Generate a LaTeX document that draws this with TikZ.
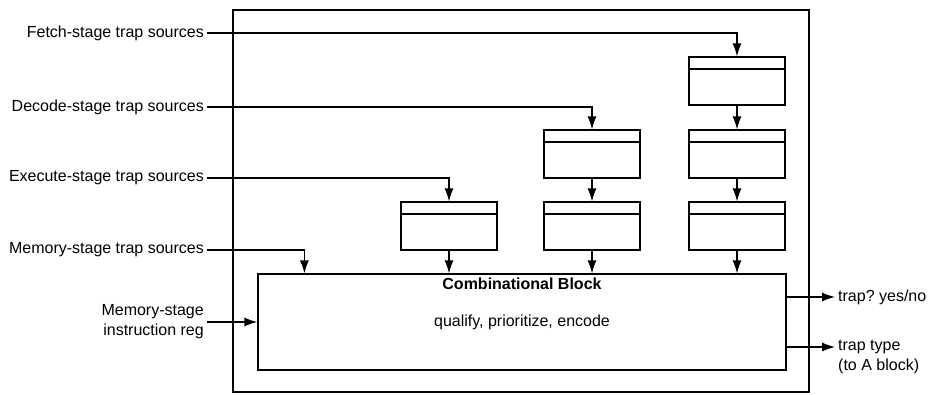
\documentclass[tikz,border=0pt]{standalone}
\usepackage{fontspec}
\setmainfont{Liberation Sans}
\usetikzlibrary{calc,positioning,arrows.meta}
\newcommand{\trapfont}{\fontsize{16}{20}\selectfont}

\begin{document}
\begin{tikzpicture}[x=1pt, y=-1pt,
    every node/.style={font=\trapfont},
    src/.style={anchor=east, align=right, inner sep=3pt},
    outp/.style={anchor=west, align=left, inner sep=3pt},
    frame/.style={draw, line width=1.2pt, minimum width=576pt, minimum height=382pt, inner sep=0pt},
    reg/.style={draw, line width=1.2pt, minimum width=96pt, minimum height=48pt, inner sep=0pt,
                path picture={\draw[line width=1.2pt]
                  ([yshift=-12pt]path picture bounding box.north west) --
                  ([yshift=-12pt]path picture bounding box.north east);}},
    comb/.style={draw, line width=1.2pt, minimum width=528pt, minimum height=96pt, inner sep=0pt},
    arr/.style={-{Latex[length=13pt,width=9pt]}, line width=1.2pt},
  ]
    \useasboundingbox (0,0) rectangle (937,394);

    % Rahmen und Kombinatorik
    \node[frame] (outer) at (521,201) {};
    \node[comb] (cb) at (522,322) {qualify, prioritize, encode};
    \node[below=1pt of cb.north, font=\trapfont\bfseries] (cbtitle) {Combinational Block};

    % Register je Stufe
    \node[reg] (f1) at (737,81)  {};
    \node[reg] (f2) at (737,154) {};
    \node[reg] (f3) at (737,226) {};
    \node[reg] (d1) at (592,154) {};
    \node[reg] (d2) at (592,226) {};
    \node[reg] (e1) at (449,226) {};

    % Eingaenge
    \node[src] (lfetch) at (207,33)  {Fetch-stage trap sources};
    \node[src] (ldec)   at (207,107) {Decode-stage trap sources};
    \node[src] (lexe)   at (207,178) {Execute-stage trap sources};
    \node[src] (lmem)   at (207,250) {Memory-stage trap sources};
    \node[src] (lir)    at (207,322) {Memory-stage\\instruction reg};

    \draw[arr] (lfetch.east) -| (f1.north);
    \draw[arr] (ldec.east) -| (d1.north);
    \draw[arr] (lexe.east) -| (e1.north);
    \draw[arr] (lmem.east) -| ([xshift=47pt]cb.north west);
    \draw[arr] (lir.east) -- (cb.west);

    \draw[arr] (f1) -- (f2);
    \draw[arr] (f2) -- (f3);
    \draw[arr] (d1) -- (d2);
    \draw[arr] (f3.south) -- (f3.south |- cb.north);
    \draw[arr] (d2.south) -- (d2.south |- cb.north);
    \draw[arr] (e1.south) -- (e1.south |- cb.north);

    % Ausgaenge
    \node[outp] (yesno) at (835,297) {trap?\ yes/no};
    \node[outp] (ttype) at (835,357) {trap type\\(to A block)};

    \draw[arr] (cb.east |- yesno) -- (yesno.west);
    \draw[arr] ([yshift=-25pt]cb.east) -- ([yshift=-25pt]cb.east -| ttype.west);
  \end{tikzpicture}
\end{document}
